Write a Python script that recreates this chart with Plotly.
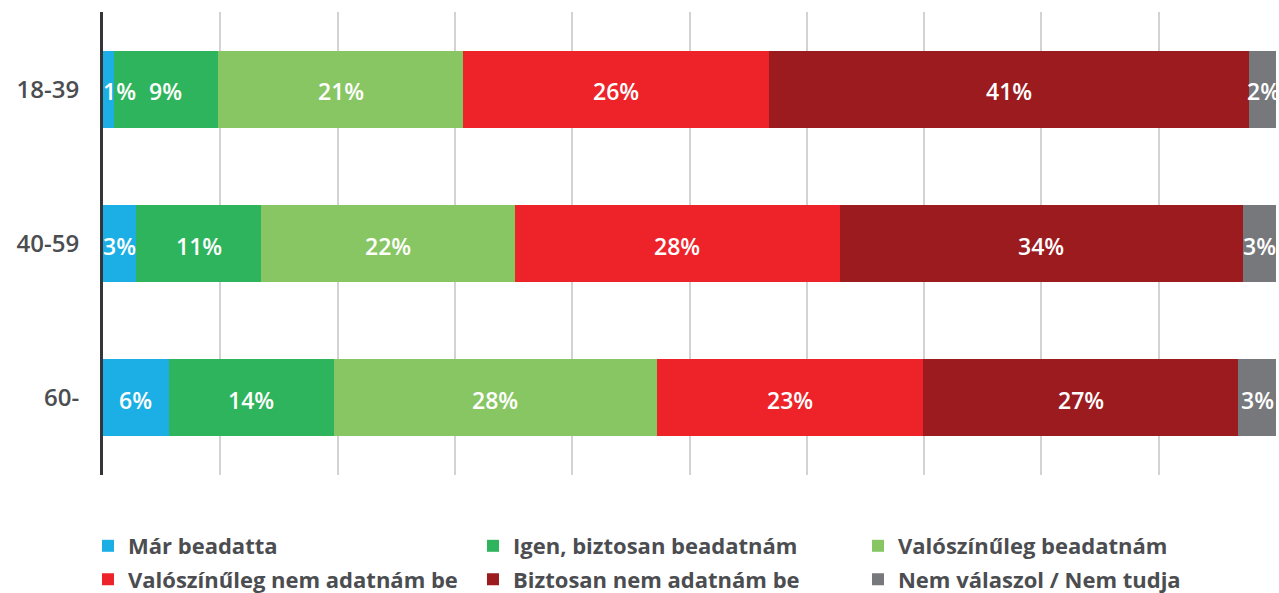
import plotly.graph_objects as go

categories = ["18-39", "40-59", "60-"]
series_names = [
    "Már beadatta",
    "Igen, biztosan beadatnám",
    "Valószínűleg beadatnám",
    "Valószínűleg nem adatnám be",
    "Biztosan nem adatnám be",
    "Nem válaszol / Nem tudja",
]
colors = ["#1cafe5", "#2db45c", "#88c664", "#ed2329", "#9b1b1f", "#76787b"]

# widths (percent of the bar)
mar_beadatta = [0.9, 2.8, 5.6]
igen_biztosan = [8.9, 10.7, 14.1]
valoszinuleg = [20.9, 21.6, 27.5]
valoszinuleg_nem = [26.1, 27.7, 22.7]
biztosan_nem = [40.9, 34.4, 26.9]
nem_valaszol = [2.4, 2.8, 3.2]

# labels printed on the bars
lbl_mar = [1, 3, 6]
lbl_igen = [9, 11, 14]
lbl_val = [21, 22, 28]
lbl_valnem = [26, 28, 23]
lbl_bizt = [41, 34, 27]
lbl_nv = [2, 3, 3]

series_values = [mar_beadatta, igen_biztosan, valoszinuleg, valoszinuleg_nem, biztosan_nem, nem_valaszol]
series_labels = [lbl_mar, lbl_igen, lbl_val, lbl_valnem, lbl_bizt, lbl_nv]
legend_ids = ["legend", "legend", "legend", "legend2", "legend2", "legend2"]

fig = go.Figure()
for name, vals, col, lg in zip(series_names, series_values, colors, legend_ids):
    fig.add_trace(go.Bar(
        y=categories, x=vals, name=name, orientation="h",
        marker=dict(color=col, line=dict(width=0)),
        hoverinfo="skip", legend=lg,
    ))

# value labels drawn on top of all bars (at segment centres)
starts = [0.0] * len(categories)
for vals, lbls in zip(series_values, series_labels):
    for i, v in enumerate(vals):
        narrow = v < 2
        fig.add_annotation(
            x=starts[i] if narrow else starts[i] + v / 2, y=categories[i],
            xref="x", yref="y", text=f"{lbls[i]}%", showarrow=False,
            xanchor="left" if narrow else "center", yanchor="middle",
            xshift=-2 if narrow else 0, yshift=-2,
            font=dict(family="Open Sans", size=23, color="white", weight=600),
        )
        starts[i] += v

legend_common = dict(
    orientation="h", xanchor="left", yanchor="top",
    entrywidth=340, entrywidthmode="pixels",
    font=dict(family="Open Sans", size=22, color="#4b4d50", weight="bold"),
    traceorder="normal", bgcolor="rgba(0,0,0,0)",
)

fig.update_layout(
    barmode="stack",
    bargap=0.5,
    width=1279, height=593,
    margin=dict(l=103, r=3, t=12, b=118, autoexpand=False),
    paper_bgcolor="white", plot_bgcolor="white",
    font=dict(family="Open Sans", color="#4b4d50"),
    legend=dict(x=-0.0128, y=-0.108, **legend_common),
    legend2=dict(x=-0.0128, y=-0.180, **legend_common),
    showlegend=True,
)
fig.update_xaxes(
    range=[0, 100], dtick=10, showticklabels=False, showgrid=True,
    gridcolor="#d3d3d3", gridwidth=2, zeroline=False, showline=False,
    automargin=False,
)
fig.update_yaxes(
    categoryorder="array", categoryarray=categories, autorange="reversed",
    showline=True, linecolor="#333538", linewidth=3, showgrid=False,
    ticks="", ticklabelstandoff=16, automargin=False,
    tickfont=dict(family="Open Sans", size=24, color="#4b4d50", weight=600),
)

fig.write_html(
    "out.html",
    config={"displayModeBar": False},
    post_script="document.body.style.margin='0';document.body.style.overflow='hidden';",
)
